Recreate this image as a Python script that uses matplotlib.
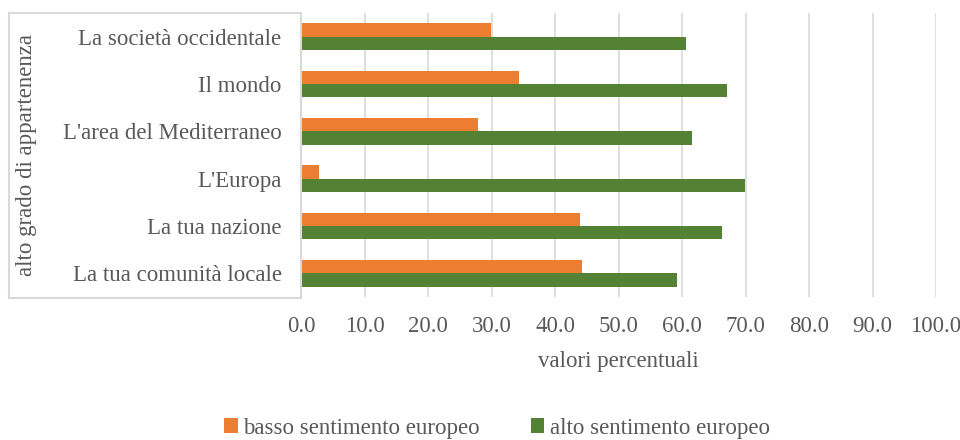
import numpy as np
import matplotlib
matplotlib.use('Agg')
import matplotlib.pyplot as plt
from matplotlib.patches import Rectangle

categories = ['La tua comunità locale', 'La tua nazione', "L'Europa",
              "L'area del Mediterraneo", 'Il mondo', 'La società occidentale']
basso = [44.3, 43.9, 2.8, 27.8, 34.4, 29.9]
alto = [59.2, 66.3, 69.9, 61.6, 67.1, 60.6]
ticks = np.arange(0, 101, 10)

ORANGE = '#ED7D31'
GREEN = '#548235'
TXT = '#595959'
GRID = '#D9D9D9'
FS = 16.5

plt.rcParams['font.family'] = ['Liberation Serif', 'DejaVu Serif']

fig = plt.figure(figsize=(9.6, 4.4), dpi=100)
# axes in pixel coords: x 301..936, y 13..297 (from top)
W, H = 960, 440
ax = fig.add_axes([301 / W, 1 - 297 / H, (936 - 301) / W, (297 - 13) / H])

y = np.arange(len(categories))
h = 0.28
ax.barh(y + h / 2, basso, height=h, color=ORANGE, label='basso sentimento europeo', zorder=3)
ax.barh(y - h / 2, alto, height=h, color=GREEN, label='alto sentimento europeo', zorder=3)

ax.set_xlim(0, 100)
ax.set_ylim(-0.5, len(categories) - 0.5)
ax.set_xticks(ticks)
ax.set_xticklabels([f'{t:.1f}' for t in ticks], fontsize=FS, color=TXT)
ax.set_yticks(y)
ax.set_yticklabels(categories, fontsize=FS, color=TXT)
ax.tick_params(length=0, pad=14, axis='x')
ax.tick_params(length=0, pad=14, axis='y')
ax.grid(axis='x', color=GRID, lw=1.2, zorder=0)
for s in ['top', 'right', 'bottom']:
    ax.spines[s].set_visible(False)
ax.spines['left'].set_color(GRID)
ax.spines['left'].set_linewidth(1.2)

ax.set_xlabel('valori percentuali', fontsize=FS, color=TXT, labelpad=10)

# boxed axis title area
fig.patches.append(Rectangle((9 / W, 1 - 298 / H), (301 - 9) / W, (298 - 13) / H,
                             transform=fig.transFigure, fill=False,
                             edgecolor=GRID, lw=1.5, zorder=0))
fig.text(27 / W, 1 - 155 / H, 'alto grado di appartenenza', rotation=90,
         ha='center', va='center', fontsize=FS, color=TXT)

leg = fig.legend(loc='center', bbox_to_anchor=(497 / W, 1 - 428 / H), ncol=2,
                 frameon=False, fontsize=FS, handlelength=0.6, handleheight=0.6,
                 handletextpad=0.25, columnspacing=2.2)
for t in leg.get_texts():
    t.set_color(TXT)

fig.savefig('out.png', dpi=100)
